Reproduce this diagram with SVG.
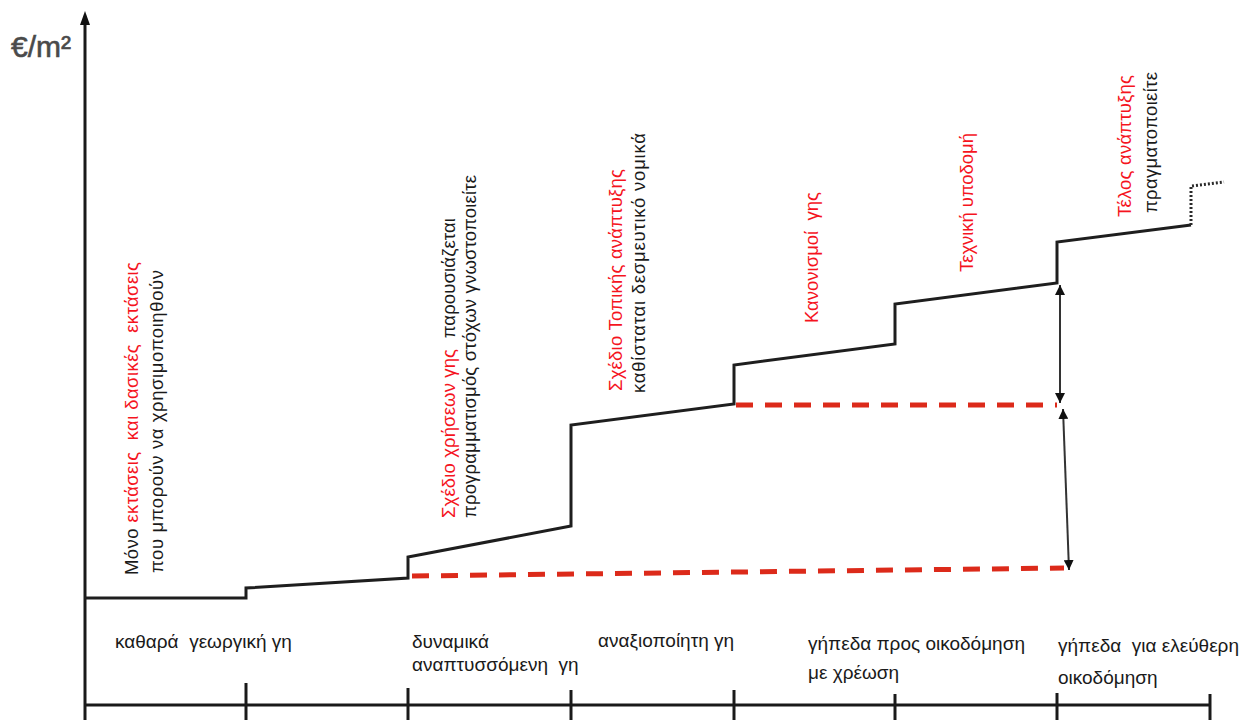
<svg xmlns="http://www.w3.org/2000/svg" width="1254" height="720" viewBox="0 0 1254 720">
  <style>
    text { white-space: pre; }
    .axis { stroke: #1a1a1a; stroke-width: 3; fill: none; }
    .tick { stroke: #1a1a1a; stroke-width: 3; }
    .curve { stroke: #1e1e1e; stroke-width: 3; fill: none; stroke-linejoin: miter; }
    .dots { stroke: #2a2a2a; stroke-width: 3; fill: none; stroke-dasharray: 2 2; }
    .red-dash { stroke: #dc2a1a; stroke-width: 5; fill: none; stroke-dasharray: 17 12; }
    .span { stroke: #333; stroke-width: 2; fill: none; marker-start: url(#tri); marker-end: url(#tri); }
    .vt { font-family: "Liberation Sans", "DejaVu Sans", sans-serif; font-size: 18.5px; fill: #1a1a1a; }
    .red { fill: #f5141e; }
    .ht { font-family: "Liberation Sans", "DejaVu Sans", sans-serif; font-size: 19px; fill: #1a1a1a; }
    .unit { font-family: "Liberation Sans", "DejaVu Sans", sans-serif; font-size: 30px; fill: #4a4a4a; stroke: #4a4a4a; stroke-width: 0.6; }
  </style>
  <defs>
    <marker id="tri" viewBox="0 0 10 10" refX="10" refY="5" markerWidth="5" markerHeight="5" orient="auto-start-reverse" markerUnits="strokeWidth">
      <path d="M0,0 L10,5 L0,10 Z" fill="#111"/>
    </marker>
  </defs>
  <rect width="1254" height="720" fill="#fff"/>

  <!-- axes -->
  <g id="axes">
    <line class="axis" x1="85" y1="22" x2="85" y2="720"/>
    <path d="M85,11 L90,25 L80,25 Z" fill="#111"/>
    <line class="axis" x1="84" y1="705" x2="1210" y2="705"/>
    <line class="tick" x1="246" y1="683" x2="246" y2="720"/>
    <line class="tick" x1="408" y1="688" x2="408" y2="720"/>
    <line class="tick" x1="571" y1="690" x2="571" y2="720"/>
    <line class="tick" x1="734" y1="690" x2="734" y2="720"/>
    <line class="tick" x1="895" y1="694" x2="895" y2="720"/>
    <line class="tick" x1="1057" y1="693" x2="1057" y2="720"/>
    <line class="tick" x1="1210" y1="694" x2="1210" y2="720"/>
    <text class="unit" x="11" y="57">€/m²</text>
  </g>

  <!-- price curve and reference levels -->
  <g id="connectors">
    <path class="curve" d="M84,598 L246,598 L246,588 L408,578 L408,557 L571,526 L571,425 L734,404 L734,365 L895,344 L895,304 L1057,283 L1057,242 L1191,225"/>
    <path class="dots" d="M1191,225 L1191,186 L1224,182"/>
    <path class="red-dash" d="M412,576 L1064,568"/>
    <path class="red-dash" d="M736,405 L1057,405"/>
    <line class="span" x1="1060" y1="285" x2="1060" y2="403"/>
    <line class="span" x1="1063" y1="409" x2="1069" y2="570"/>
  </g>

  <!-- stage descriptions (vertical) -->
  <g id="stage-1">
    <text class="vt" transform="translate(138,575) rotate(-90)" textLength="313"><tspan>Μόνο </tspan><tspan class="red">εκτάσεις  και δασικές  εκτάσεις</tspan></text>
    <text class="vt" transform="translate(163,573) rotate(-90)" textLength="303">που μπορούν να χρησιμοποιηθούν</text>
  </g>
  <g id="stage-2">
    <text class="vt" transform="translate(455,518) rotate(-90)" textLength="300"><tspan class="red">Σχέδιο χρήσεων γης </tspan><tspan> παρουσιάζεται</tspan></text>
    <text class="vt" transform="translate(476,518) rotate(-90)" textLength="343">προγραμματισμός στόχων γνωστοποιείτε</text>
  </g>
  <g id="stage-3">
    <text class="vt red" transform="translate(622,391) rotate(-90)" textLength="222">Σχέδιο Τοπικής ανάπτυξης</text>
    <text class="vt" transform="translate(645,393) rotate(-90)" textLength="260">καθίσταται δεσμευτικό νομικά</text>
  </g>
  <g id="stage-4">
    <text class="vt red" transform="translate(818,323) rotate(-90)">Κανονισμοί  γης</text>
  </g>
  <g id="stage-5">
    <text class="vt red" transform="translate(973,272) rotate(-90)" textLength="139">Τεχνική υποδομή</text>
  </g>
  <g id="stage-6">
    <text class="vt red" transform="translate(1131,217) rotate(-90)" textLength="142">Τέλος ανάπτυξης</text>
    <text class="vt" transform="translate(1157,213) rotate(-90)" textLength="141">πραγματοποιείτε</text>
  </g>

  <!-- land categories along the horizontal axis -->
  <g id="land-1"><text class="ht" x="115" y="648">καθαρά  γεωργική γη</text></g>
  <g id="land-2">
    <text class="ht" x="412" y="648">δυναμικά</text>
    <text class="ht" x="412" y="671">αναπτυσσόμενη  γη</text>
  </g>
  <g id="land-3"><text class="ht" x="598" y="647">αναξιοποίητη γη</text></g>
  <g id="land-4">
    <text class="ht" x="808" y="650">γήπεδα προς οικοδόμηση</text>
    <text class="ht" x="808" y="679">με χρέωση</text>
  </g>
  <g id="land-5">
    <text class="ht" x="1058" y="652">γήπεδα  για ελεύθερη</text>
    <text class="ht" x="1058" y="684">οικοδόμηση</text>
  </g>
</svg>
